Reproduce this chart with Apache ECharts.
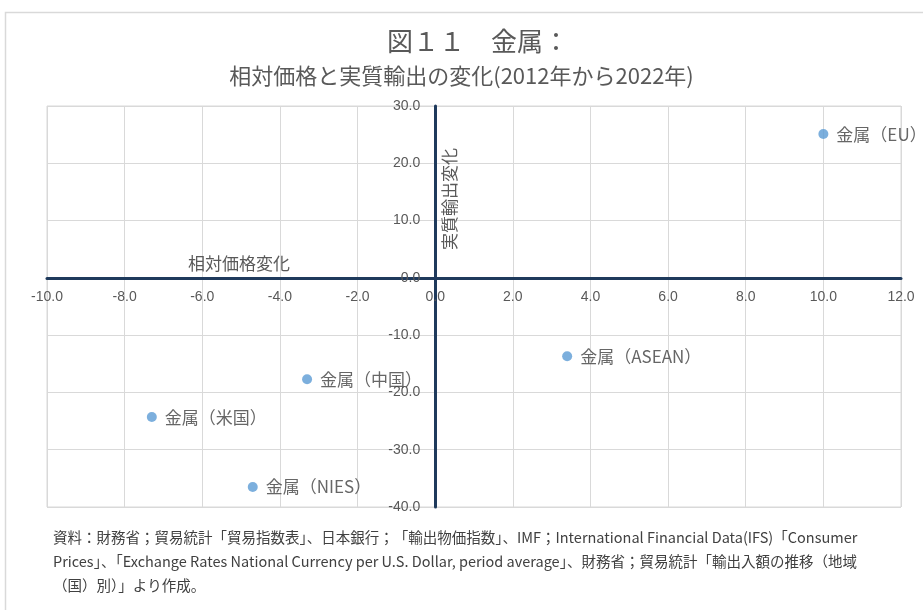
<!DOCTYPE html>
<html>
<head>
<meta charset="utf-8">
<script src="https://cdn.jsdelivr.net/npm/echarts@6/dist/echarts.min.js"></script>
<style>
  html, body { margin: 0; padding: 0; background: #ffffff; }
  #chart { width: 923px; height: 610px; }
</style>
</head>
<body>
<div id="chart"></div>
<script>
// Regions and their changes, 2012 -> 2022
const regionNames = ['金属（EU）', '金属（ASEAN）', '金属（中国）', '金属（米国）', '金属（NIES）'];
const relativePriceChange = [10.0, 3.4, -3.3, -7.3, -4.7];
const realExportChange = [25.1, -13.7, -17.7, -24.3, -36.5];

// Axis ranges
const xRange = [-10, 12];
const xStep = 2;
const yRange = [-40, 30];
const yStep = 10;

// Text
const titleText = '図１１　金属：';
const subtitleText = '相対価格と実質輸出の変化(2012年から2022年)';
const xAxisName = '相対価格変化';
const yAxisName = '実質輸出変化';
const sourceLines = [
  '資料：財務省；貿易統計「貿易指数表」、日本銀行；「輸出物価指数」、IMF；International Financial Data(IFS)「Consumer',
  'Prices」、「Exchange Rates National Currency per U.S. Dollar, period average」、財務省；貿易統計「輸出入額の推移（地域',
  '（国）別）」より作成。'
];

const CJK = '"Noto Sans CJK JP", "Noto Sans", sans-serif';
const NUM_FONT = '"Liberation Sans", Arial, sans-serif';
const AXIS_COLOR = '#1f3a5c';
const GRID_COLOR = '#d9d9d9';

// Plot box
const W = 923, H = 610;
const gridBox = { left: 47, right: 22, top: 106, bottom: 103 };
const plotW = W - gridBox.left - gridBox.right;
const plotH = H - gridBox.top - gridBox.bottom;
// shift each axis from the plot edge onto the zero line of the other axis
const xAxisShift = plotH * (0 - yRange[0]) / (yRange[1] - yRange[0]);
const yAxisShift = plotW * (0 - xRange[0]) / (xRange[1] - xRange[0]);

const points = regionNames.map((n, i) => ({ name: n, value: [relativePriceChange[i], realExportChange[i]] }));

const chart = echarts.init(document.getElementById('chart'), null, { renderer: 'canvas' });

const graphics = [
  // outer frame
  { type: 'rect', z: 0, shape: { x: 5.5, y: 12.5, width: 940, height: 640 },
    style: { fill: 'none', stroke: '#d9d9d9', lineWidth: 1.5 } },
  { type: 'text', x: 387, y: 41, z: 10,
    style: { text: titleText, font: '26px ' + CJK, fill: '#595959', verticalAlign: 'middle' } },
  { type: 'text', left: 'center', top: 65, z: 10,
    style: { text: subtitleText, font: '22px ' + CJK, fill: '#595959' } },
  { type: 'text', x: 188, y: 264, z: 10,
    style: { text: xAxisName, font: '17px ' + CJK, fill: '#595959', verticalAlign: 'middle' } },
  { type: 'text', x: 450, y: 199, rotation: Math.PI / 2, z: 10,
    style: { text: yAxisName, font: '17px ' + CJK, fill: '#595959', align: 'center', verticalAlign: 'middle' } }
];
sourceLines.forEach((t, i) => {
  graphics.push({ type: 'text', x: 53, y: 537 + i * 24, z: 10,
    style: { text: t, font: '14.5px ' + CJK, fill: '#404040', verticalAlign: 'middle' } });
});

chart.setOption({
  animation: false,
  backgroundColor: '#ffffff',
  grid: { left: gridBox.left, right: gridBox.right, top: gridBox.top, bottom: gridBox.bottom,
          show: true, borderColor: GRID_COLOR, borderWidth: 1 },
  xAxis: {
    type: 'value', min: xRange[0], max: xRange[1], interval: xStep,
    position: 'bottom', offset: -xAxisShift,
    axisLine: { onZero: false, lineStyle: { color: AXIS_COLOR, width: 3 } },
    axisTick: { show: false },
    axisLabel: { color: '#595959', fontSize: 14, fontFamily: NUM_FONT, margin: 12,
                 formatter: v => v.toFixed(1) },
    splitLine: { show: true, lineStyle: { color: GRID_COLOR, width: 1 } }
  },
  yAxis: {
    type: 'value', min: yRange[0], max: yRange[1], interval: yStep,
    position: 'left', offset: -yAxisShift,
    axisLine: { onZero: false, lineStyle: { color: AXIS_COLOR, width: 3 } },
    axisTick: { show: false },
    axisLabel: { color: '#595959', fontSize: 14, fontFamily: NUM_FONT, margin: 15,
                 formatter: v => v.toFixed(1) },
    splitLine: { show: true, lineStyle: { color: GRID_COLOR, width: 1 } }
  },
  series: [{
    type: 'scatter',
    data: points,
    symbol: 'circle',
    symbolSize: 10,
    itemStyle: { color: '#5b9bd5' },
    label: { show: true, position: 'right', distance: 8, formatter: '{b}',
             color: '#404040', fontSize: 17, fontFamily: CJK }
  }],
  graphic: graphics
});
</script>
</body>
</html>
